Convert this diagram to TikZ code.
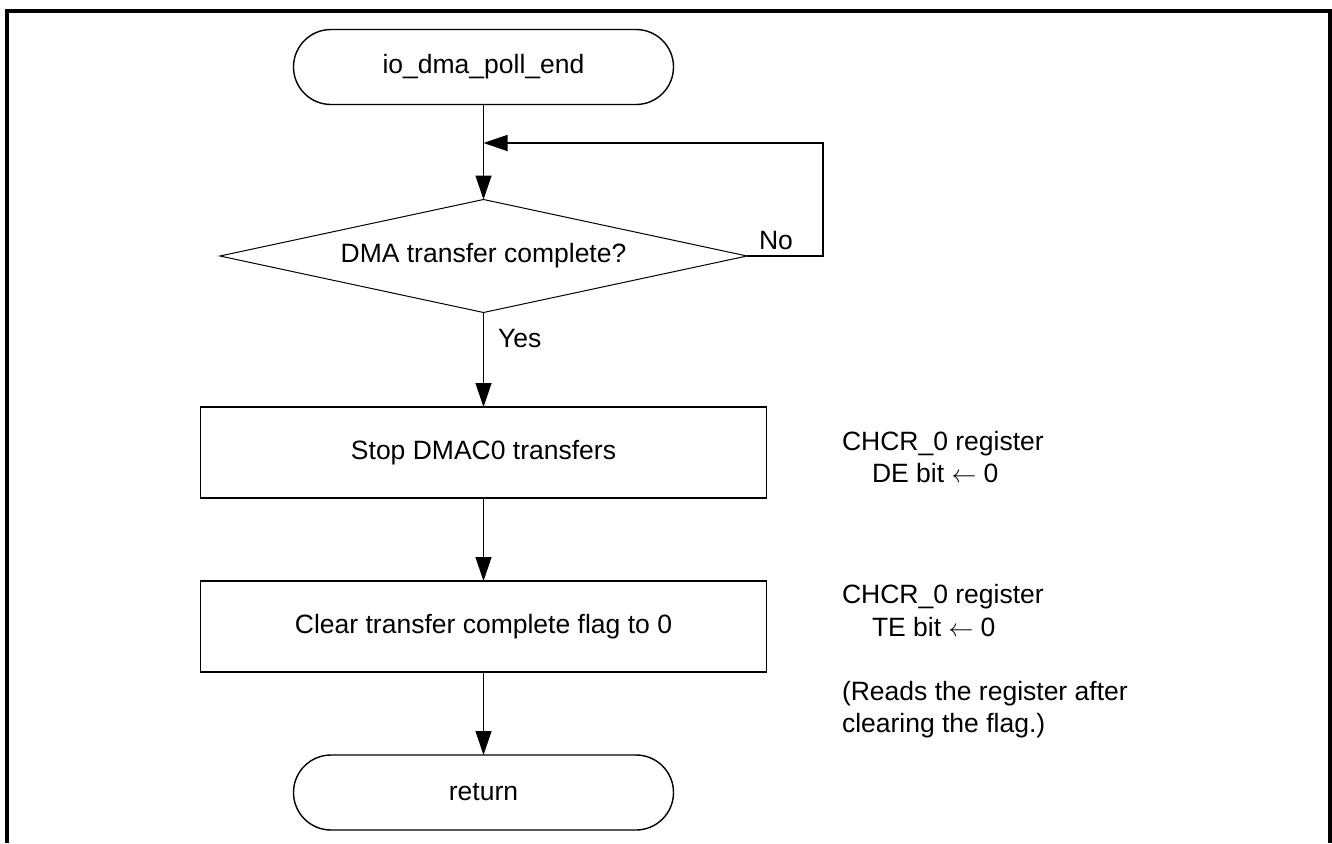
\documentclass[tikz,border=0pt]{standalone}
\usepackage{fontspec}
\setmainfont{Liberation Sans}
\usetikzlibrary{shapes.geometric,arrows.meta}
\begin{document}
\begin{tikzpicture}[x=1bp,y=-1bp,
  every node/.style={font=\fontsize{26.5bp}{32bp}\selectfont},
  term/.style={draw,line width=1.4bp,rectangle,rounded corners=37.5bp,minimum width=380bp,minimum height=75bp,inner sep=0pt,outer sep=0pt},
  proc/.style={draw,line width=1.6bp,rectangle,minimum width=566bp,minimum height=91bp,inner sep=0pt,outer sep=0pt},
  dec/.style={draw,line width=1bp,diamond,aspect=4.66,minimum width=527bp,minimum height=113bp,inner sep=0pt,outer sep=0pt},
  conn/.style={line width=1.3bp,-{Triangle[length=24bp,width=16bp]}},
  note/.style={anchor=base west,inner sep=0pt,outer sep=0pt}]
\useasboundingbox (0,0) rectangle (1332,843);
\draw[line width=4bp] (7,843) -- (7,11) -- (1329.5,11) -- (1329.5,843);

\node[term] (start) at (483.5,67) {io\_dma\_poll\_end};
\node[dec] (cond) at (483.5,256) {DMA transfer complete?};
\node[proc] (stop) at (483.5,452.5) {Stop DMAC0 transfers};
\node[proc] (clear) at (483.5,626.5) {Clear transfer complete flag to 0};
\node[term] (ret) at (483.5,792.5) {return};
\coordinate (join) at (483.5,143);
\coordinate (loopr) at (823,143);

\draw[conn] (start) -- (cond);
\draw[conn] (cond.east) -- (cond.east -| loopr) -- (loopr) -- (join);
\draw[conn] (cond) -- (stop);
\draw[conn] (stop) -- (clear);
\draw[conn] (clear) -- (ret);

\node[note] (no) at (759,249) {No};
\node[note] (yes) at (498,347) {Yes};

\node[note] (a1) at (842,450) {CHCR\_0 register};
\node[note] (a2) at (872,482) {DE bit $\leftarrow$ 0};
\node[note] (a3) at (842,603) {CHCR\_0 register};
\node[note] (a4) at (872,636) {TE bit $\leftarrow$ 0};
\node[note] (a5) at (842,700) {(Reads the register after};
\node[note] (a6) at (842,732) {clearing the flag.)};
\end{tikzpicture}
\end{document}
